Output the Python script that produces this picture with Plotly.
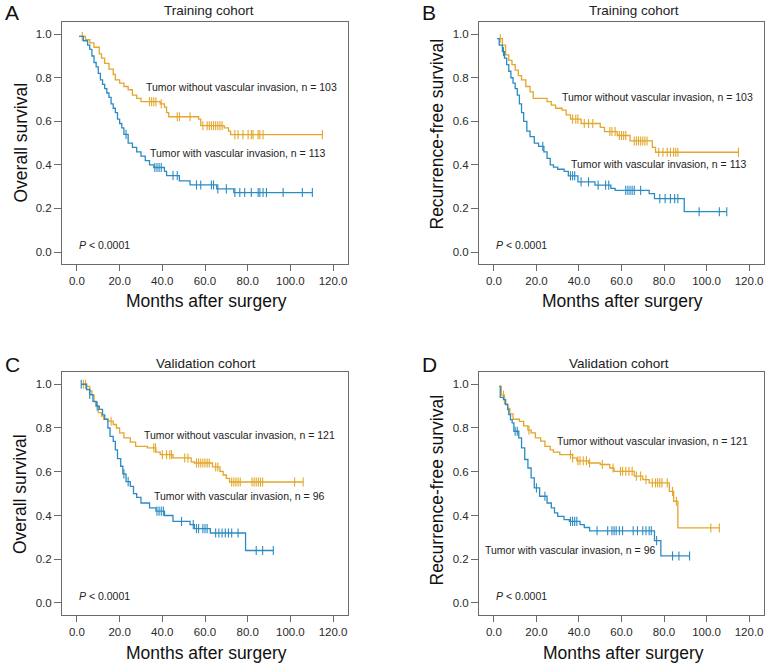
import plotly.graph_objects as go

ORANGE = "#E4A62B"
BLUE = "#2B8BC3"
FONT = "Arial, Liberation Sans, sans-serif"

# ---------------- Panel A : Training cohort, overall survival ----------------
a_wo_times = [1, 4, 6, 8, 10.5, 11.5, 13, 15, 17, 18, 20, 22, 24, 26, 28, 30, 39, 41, 42, 43, 57, 58, 69, 71, 72]
a_wo_surv = [0.99, 0.975, 0.96, 0.94, 0.91, 0.89, 0.866, 0.84, 0.815, 0.79, 0.775, 0.76, 0.745, 0.72, 0.705,
             0.69, 0.68, 0.665, 0.64, 0.621, 0.61, 0.58, 0.57, 0.555, 0.539]
a_wo_cens = [2.5, 34, 35, 36, 37, 39.5, 47, 48, 53, 59, 61, 62, 63, 64, 65, 66, 67, 68, 74, 75.5, 77.8, 80.2,
             81.7, 82.5, 84.9, 85.7, 87.2, 115]
a_w_times = [1, 3, 5, 6, 7, 8, 9, 10, 11, 12, 13, 14, 15, 16, 17, 18, 19, 20, 21, 22, 24, 26, 28, 30, 32, 34,
             36, 41, 42, 48, 53, 65.5, 73.5]
a_w_surv = [0.99, 0.97, 0.95, 0.93, 0.90, 0.87, 0.85, 0.82, 0.79, 0.77, 0.75, 0.73, 0.71, 0.68, 0.66, 0.64,
            0.61, 0.59, 0.57, 0.54, 0.50, 0.48, 0.46, 0.44, 0.42, 0.40, 0.388, 0.37, 0.351, 0.327, 0.308, 0.29, 0.273]
a_w_cens = [23, 36.5, 37.5, 38.5, 39.5, 45, 47, 56, 58, 63, 64, 66, 70, 74, 76.3, 78.6, 81.7, 84.9, 85.7, 87.2,
            88.8, 96.6, 105.6, 110.3]

# ---------------- Panel B : Training cohort, recurrence-free survival ----------------
b_wo_times = [2, 4, 5.5, 7, 8.5, 10, 11.5, 13, 15, 17, 18.5, 25, 27, 29, 32, 34, 36, 41, 50, 52, 58, 64, 74.5, 76]
b_wo_surv = [0.98, 0.95, 0.905, 0.88, 0.86, 0.835, 0.81, 0.79, 0.76, 0.735, 0.705, 0.69, 0.674, 0.66, 0.651,
             0.63, 0.61, 0.59, 0.572, 0.553, 0.535, 0.51, 0.48, 0.458]
b_wo_cens = [3, 37, 38.5, 39.5, 42.5, 44.5, 46.5, 54.5, 55.5, 57, 59, 60, 61, 62, 66, 67, 68, 69, 70, 71, 72,
             77.5, 79.5, 81.5, 83, 84.5, 85.5, 86.5, 115]
b_w_times = [1.5, 2.5, 4, 5, 6, 7, 8, 9, 10, 11, 12, 13, 14, 15.5, 17, 19, 21, 23.5, 25, 26.5, 28, 30, 33, 35,
             39.5, 47.5, 55, 57, 73, 75.5, 89.5]
b_w_surv = [0.98, 0.95, 0.92, 0.89, 0.86, 0.83, 0.80, 0.775, 0.75, 0.72, 0.68, 0.64, 0.60, 0.555, 0.53, 0.50,
            0.485, 0.46, 0.43, 0.40, 0.39, 0.38, 0.37, 0.35, 0.322, 0.307, 0.292, 0.283, 0.268, 0.245, 0.185]
b_w_cens = [4.5, 23, 36, 37, 38, 41, 44.5, 49, 52.5, 54, 62, 63, 64, 65, 66, 69, 78, 80.5, 83, 85, 86.5,
            96.5, 106, 109.5]

# ---------------- Panel C : Validation cohort, overall survival ----------------
c_wo_times = [4.5, 6, 7, 8, 9, 10, 11.5, 12.5, 14.5, 17, 18.5, 20, 22, 25, 27.5, 33, 37, 39, 45, 53.5, 55,
              63.5, 67, 68.5, 70, 71.5]
c_wo_surv = [0.99, 0.97, 0.95, 0.92, 0.90, 0.87, 0.854, 0.839, 0.831, 0.816, 0.80, 0.778, 0.755, 0.735, 0.716,
             0.709, 0.69, 0.678, 0.663, 0.645, 0.64, 0.622, 0.602, 0.585, 0.57, 0.553]
c_wo_cens = [3, 4, 16, 36, 36.8, 40, 42, 43.5, 44.3, 50.5, 52, 56, 57, 58, 59, 60, 61, 62, 65, 66, 72.5, 73.5,
             74.5, 75.5, 76.5, 82, 83, 84, 85, 86, 87, 102, 106]
c_w_times = [2, 4.5, 6, 7.5, 9, 10.5, 12, 13, 14.5, 15.5, 17, 18, 19, 20.5, 21.5, 23, 25, 26.5, 28, 30, 34, 37,
             41, 45, 53, 55, 62.5, 79]
c_w_surv = [1.0, 0.976, 0.953, 0.922, 0.90, 0.885, 0.86, 0.84, 0.80, 0.762, 0.739, 0.70, 0.66, 0.625, 0.59,
            0.555, 0.533, 0.50, 0.483, 0.457, 0.435, 0.42, 0.40, 0.373, 0.358, 0.34, 0.32, 0.24]
c_w_cens = [2, 6, 9.5, 22, 24, 37.5, 38.5, 39.5, 40.5, 49, 54.5, 56, 57, 59, 60, 61, 65, 66.5, 68, 69.5, 71,
            72.5, 75.5, 84, 87, 92]

# ---------------- Panel D : Validation cohort, recurrence-free survival ----------------
d_wo_times = [2.5, 3.5, 5, 6.5, 7.5, 9, 12, 14, 16, 17.5, 19.5, 22, 24, 26.5, 28, 31, 37, 39, 44.5, 50, 54.5,
              56.5, 66, 70, 73, 82.5, 84.5, 86.5]
d_wo_surv = [0.99, 0.95, 0.91, 0.89, 0.865, 0.84, 0.83, 0.81, 0.79, 0.778, 0.755, 0.74, 0.716, 0.70, 0.69,
             0.678, 0.663, 0.65, 0.64, 0.633, 0.617, 0.602, 0.58, 0.564, 0.549, 0.51, 0.465, 0.343]
d_wo_cens = [4.5, 16.5, 36, 37, 39.5, 40.5, 42, 43.5, 45, 51, 56, 59.5, 60.5, 62, 63.5, 65, 67, 69, 71.5, 74.5,
             76, 77, 78, 79, 81.5, 84, 85.8, 102, 106]
d_w_times = [2.5, 3, 4.5, 5.5, 6.5, 7, 7.8, 8.6, 9.4, 11.7, 13, 14.5, 16, 17.5, 19, 21.5, 25, 27, 28.5, 30, 33,
             35.5, 40.5, 42.5, 45, 75.5, 78.5]
d_w_surv = [0.99, 0.94, 0.93, 0.907, 0.884, 0.861, 0.838, 0.823, 0.785, 0.755, 0.709, 0.656, 0.617, 0.572,
            0.526, 0.488, 0.457, 0.435, 0.412, 0.396, 0.381, 0.373, 0.358, 0.345, 0.33, 0.285, 0.215]
d_w_cens = [10, 11, 20, 24, 36, 37, 38, 39, 48.5, 53.5, 55.5, 56.5, 57.5, 59, 60.5, 65.5, 67.5, 70, 71.5, 73,
            74, 76.5, 84, 87, 92]

panel_letters = ["A", "B", "C", "D"]
panel_titles = ["Training cohort", "Training cohort", "Validation cohort", "Validation cohort"]
y_titles = ["Overall survival", "Recurrence-free survival", "Overall survival", "Recurrence-free survival"]
x_title = "Months after surgery"
wo_labels = ["Tumor without vascular invasion, n = 103", "Tumor without vascular invasion, n = 103",
             "Tumor without vascular invasion, n = 121", "Tumor without vascular invasion, n = 121"]
w_labels = ["Tumor with vascular invasion, n = 113", "Tumor with vascular invasion, n = 113",
            "Tumor with vascular invasion, n = 96", "Tumor with vascular invasion, n = 96"]
p_label = "<i>P</i> &lt; 0.0001"
x_ticks = [0, 20, 40, 60, 80, 100, 120]
y_ticks = [0.0, 0.2, 0.4, 0.6, 0.8, 1.0]

panels = [
    (a_wo_times, a_wo_surv, a_wo_cens, a_w_times, a_w_surv, a_w_cens),
    (b_wo_times, b_wo_surv, b_wo_cens, b_w_times, b_w_surv, b_w_cens),
    (c_wo_times, c_wo_surv, c_wo_cens, c_w_times, c_w_surv, c_w_cens),
    (d_wo_times, d_wo_surv, d_wo_cens, d_w_times, d_w_surv, d_w_cens),
]

W, H = 768, 669


def px(v):
    return v / W


def py(v):
    return 1 - v / H


def step_val(times, surv, t):
    v = 1.0
    for ti, si in zip(times, surv):
        if ti <= t:
            v = si
        else:
            break
    return v


fig = go.Figure()

x_domains = [[px(62), px(348)], [px(479), px(764)], [px(62), px(348)], [px(479), px(764)]]
y_domains = [[py(264), py(22)], [py(264), py(22)], [py(615), py(372)], [py(615), py(372)]]

wo_pos = [(76.9, 0.757), (76.8, 0.712), (76.0, 0.77), (74.5, 0.739)]
w_pos = [(75.5, 0.454), (77.8, 0.402), (76.0, 0.491), (35.9, 0.244)]
title_pos = [(208.8, 10.7), (634.3, 10.7), (205.8, 363.3), (618.7, 363.3)]
letter_pos = [(11.5, 12.5), (429, 12.5), (12.5, 364.5), (429, 364.5)]
ytitle_pos = [(20, 142.5), (436.5, 134), (20, 494), (436.5, 490)]
xtitle_pos = [(206, 301), (622, 301), (206.8, 653), (623.7, 653)]

annotations = []
layout_axes = {}
for i, (wt, ws, wc, vt, vs, vc) in enumerate(panels):
    k = "" if i == 0 else str(i + 1)
    xa, ya = "x" + k, "y" + k
    for times, surv, cens, col in [(wt, ws, wc, ORANGE), (vt, vs, vc, BLUE)]:
        x0 = min(times[0], cens[0])
        end = max(times[-1], cens[-1])
        xs = [x0] + list(times) + [end]
        ys = [step_val(times, surv, x0)] + list(surv) + [surv[-1]]
        fig.add_trace(go.Scatter(x=xs, y=ys, mode="lines", line=dict(color=col, width=1.3, shape="hv"),
                                 xaxis=xa, yaxis=ya, showlegend=False, hoverinfo="skip"))
        cy = [step_val(times, surv, c) for c in cens]
        fig.add_trace(go.Scatter(x=cens, y=cy, mode="markers",
                                 marker=dict(symbol="line-ns", size=6.5, line=dict(color=col, width=1.1)),
                                 xaxis=xa, yaxis=ya, showlegend=False, hoverinfo="skip"))
    layout_axes["xaxis" + k] = dict(domain=x_domains[i], anchor=ya, range=[-7, 127], tickvals=x_ticks,
                                    tickformat=".1f", showgrid=False, zeroline=False, showline=True,
                                    mirror=True, linecolor="#6a6a6a", linewidth=1, ticks="outside",
                                    ticklen=6, tickcolor="#6a6a6a",
                                    tickfont=dict(family=FONT, size=11.5, color="#2a2a2a"))
    layout_axes["yaxis" + k] = dict(domain=y_domains[i], anchor=xa, range=[-0.055, 1.056], tickvals=y_ticks,
                                    tickformat=".1f", showgrid=False, zeroline=False, showline=True,
                                    mirror=True, linecolor="#6a6a6a", linewidth=1, ticks="outside",
                                    ticklen=7, tickcolor="#6a6a6a",
                                    tickfont=dict(family=FONT, size=11.5, color="#2a2a2a"))
    annotations.append(dict(x=wo_pos[i][0], y=wo_pos[i][1], xref=xa, yref=ya, text=wo_labels[i],
                            xanchor="center", yanchor="middle",
                            showarrow=False, font=dict(family=FONT, size=10.5, color="#222")))
    annotations.append(dict(x=w_pos[i][0], y=w_pos[i][1], xref=xa, yref=ya, text=w_labels[i],
                            xanchor="center", yanchor="middle",
                            showarrow=False, font=dict(family=FONT, size=10.5, color="#222")))
    annotations.append(dict(x=0, y=0.03, xref=xa, yref=ya, text=p_label, xanchor="left", yanchor="middle",
                            showarrow=False, font=dict(family=FONT, size=10.5, color="#222")))
    common = dict(xref="paper", yref="paper", showarrow=False, xanchor="center", yanchor="middle")
    annotations.append(dict(x=px(title_pos[i][0]), y=py(title_pos[i][1]), text=panel_titles[i],
                            font=dict(family=FONT, size=13.5, color="#222"), **common))
    annotations.append(dict(x=px(letter_pos[i][0]), y=py(letter_pos[i][1]), text=panel_letters[i],
                            font=dict(family=FONT, size=21, color="#111"), **common))
    annotations.append(dict(x=px(ytitle_pos[i][0]), y=py(ytitle_pos[i][1]), text=y_titles[i], textangle=-90,
                            font=dict(family=FONT, size=17.5, color="#111"), **common))
    annotations.append(dict(x=px(xtitle_pos[i][0]), y=py(xtitle_pos[i][1]), text=x_title,
                            font=dict(family=FONT, size=17.5, color="#111"), **common))

fig.update_layout(width=W, height=H, margin=dict(l=0, r=0, t=0, b=0), paper_bgcolor="white",
                  plot_bgcolor="white", annotations=annotations, **layout_axes)

fig.write_html("out.html", config={"displayModeBar": False},
               post_script="document.body.style.margin='0px';")
